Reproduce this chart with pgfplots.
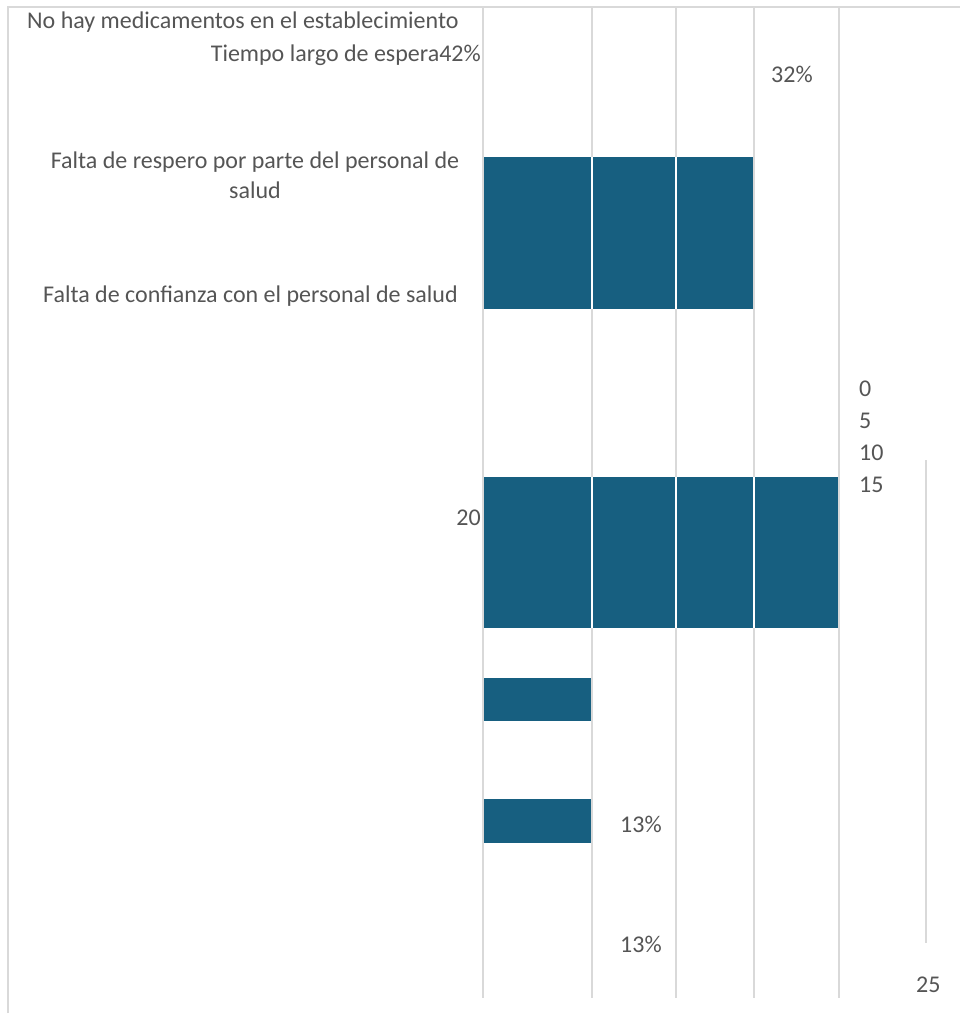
\documentclass[border=0pt]{standalone}
\usepackage{fontspec}
\setmainfont{Carlito}
\usepackage{pgfplots}
\pgfplotsset{compat=1.18}

\definecolor{barc}{HTML}{175F80}
\definecolor{gridc}{HTML}{D9D9D9}
\definecolor{txt}{HTML}{555555}

\tikzset{lbl/.style={text=txt, font=\fontsize{24}{28}\selectfont, inner sep=0pt}}

\begin{document}
\begin{tikzpicture}
\begin{axis}[
    name=ax,
    scale only axis,
    width=960pt, height=1014pt,
    xmin=0, xmax=960, ymin=0, ymax=1014,
    y dir=reverse,
    axis lines=none,
    xtick=\empty, ytick=\empty,
    clip=false,
  ]
% frame (top and left edges only, rest is cropped)
\addplot[gridc, line width=1.5pt] coordinates {(8,1013) (8,7) (960,7)};

% gridlines
\addplot[gridc, line width=2pt] coordinates {(483,7) (483,998)};
\addplot[gridc, line width=2pt] coordinates {(592,7) (592,998)};
\addplot[gridc, line width=2pt] coordinates {(676,7) (676,998)};
\addplot[gridc, line width=2pt] coordinates {(754,7) (754,998)};
\addplot[gridc, line width=2pt] coordinates {(839,7) (839,998)};
\addplot[gridc, line width=1.5pt] coordinates {(926,460) (926,943)};

% bars
\addplot[fill=barc, draw=none] coordinates {(484,157) (753,157) (753,309) (484,309)} -- cycle;
\addplot[fill=barc, draw=none] coordinates {(484,477) (838,477) (838,628) (484,628)} -- cycle;
\addplot[fill=barc, draw=none] coordinates {(484,678) (591,678) (591,721) (484,721)} -- cycle;
\addplot[fill=barc, draw=none] coordinates {(484,799) (591,799) (591,843) (484,843)} -- cycle;

% white separators across the bars
\addplot[white, line width=2pt] coordinates {(592,157) (592,309)};
\addplot[white, line width=2pt] coordinates {(676,157) (676,309)};
\addplot[white, line width=2pt] coordinates {(592,477) (592,628)};
\addplot[white, line width=2pt] coordinates {(676,477) (676,628)};
\addplot[white, line width=2pt] coordinates {(754,477) (754,628)};

% texts
\node[lbl, anchor=west] at (axis cs:27,22) {No hay medicamentos en el establecimiento};
\node[lbl, anchor=east] at (axis cs:481,55) {Tiempo largo de espera42\%};
\node[lbl, anchor=west] at (axis cs:771,74) {32\%};
\node[lbl] at (axis cs:255,162) {Falta de respero por parte del personal de};
\node[lbl] at (axis cs:255,190) {salud};
\node[lbl, anchor=east] at (axis cs:458,296) {Falta de confianza con el personal de salud};
\node[lbl, anchor=west] at (axis cs:859,389) {0};
\node[lbl, anchor=west] at (axis cs:859,421) {5};
\node[lbl, anchor=west] at (axis cs:859,453) {10};
\node[lbl, anchor=west] at (axis cs:859,485) {15};
\node[lbl, anchor=east] at (axis cs:481,518) {20};
\node[lbl, anchor=west] at (axis cs:620,824) {13\%};
\node[lbl, anchor=west] at (axis cs:620,944) {13\%};
\node[lbl, anchor=west] at (axis cs:916,985) {25};
\end{axis}
\pgfresetboundingbox
\path[use as bounding box] (ax.south west) rectangle (ax.north east);
\end{tikzpicture}
\end{document}
